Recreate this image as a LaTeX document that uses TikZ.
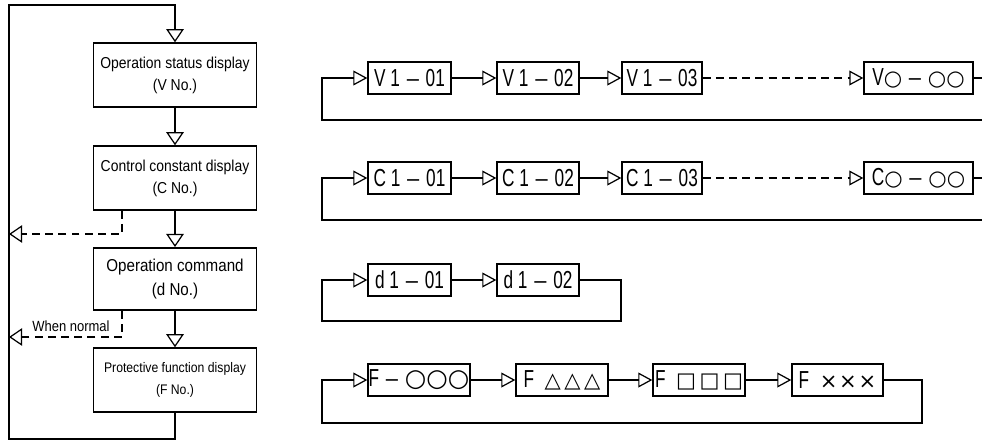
\documentclass[tikz,border=0pt]{standalone}
\usepackage{fontspec}
\setmainfont{Liberation Sans}
\newfontfamily\menufont{Liberation Sans}[FakeStretch=0.88]
\newfontfamily\rowfont{Liberation Sans}[FakeStretch=0.7]
\newfontfamily\symfont{DejaVu Sans}
\usetikzlibrary{arrows.meta}
\newcommand{\shp}[2][12]{{\symfont\fontsize{#1}{#1}\selectfont #2}}
\newcommand{\mn}{{\symfont\fontsize{11}{11}\selectfont −}}

\begin{document}
\begin{tikzpicture}[x=0.02cm,y=-0.02cm,line width=0.7pt,
    tri/.style={-{Triangle[open,length=7.5pt,width=10pt]}},
    rtri/.style={-{Triangle[open,length=8pt,width=8.5pt]}},
    dashline/.style={dash pattern=on 4.5pt off 3pt},
    menu/.style={draw,line width=1.1pt,minimum width=3.26cm,minimum height=1.27cm,align=center,inner sep=1pt},
    code/.style={draw,line width=0.8pt,minimum height=0.64cm,inner sep=0pt,font=\rowfont\fontsize{14}{14}\selectfont}]
            \clip (0,0) rectangle (982,444);
            % left column
            \node [menu,font=\menufont\fontsize{9}{12.5}\selectfont] (Vdisp) at (175,75) {Operation status display\\(V No.)};
            \node [menu,font=\menufont\fontsize{9}{12.5}\selectfont] (Cdisp) at (175,178) {Control constant display\\(C No.)};
            \node [menu,font=\menufont\fontsize{9.8}{14}\selectfont,minimum height=1.24cm] (dcmd) at (175,279) {Operation command\\(d No.)};
            \node [menu,font=\menufont\fontsize{7.9}{12.5}\selectfont] (Fdisp) at (175,380) {Protective function display\\(F No.)};
            \node [font=\menufont\fontsize{8.4}{8.4}\selectfont] (normal) at (71,326) {When normal};
            \coordinate (ret1) at (9,234);
            \coordinate (ret2) at (9,337);

            \draw [tri] (Vdisp) -- (Cdisp);
            \draw [tri] (Cdisp) -- (dcmd);
            \draw [tri] (dcmd) -- (Fdisp);
            \draw [tri] (Fdisp.south) |- (9,439) -- (9,5) -| (Vdisp.north);
            \draw [tri,dashline] ([xshift=-1.06cm]Cdisp.south) |- (ret1);
            \draw [tri,dashline] ([xshift=-1.06cm]dcmd.south) |- (ret2);

            % V row
            \node [code,minimum width=1.66cm] (V1) at (409.5,78) {V 1 \mn{} 01};
            \node [code,minimum width=1.64cm] (V2) at (538,78) {V 1 \mn{} 02};
            \node [code,minimum width=1.6cm] (V3) at (662,78) {V 1 \mn{} 03};
            \node [code,minimum width=2.18cm] (V9) at (918.5,78) {V\shp{○} \mn{} \shp{○○}};
            \draw [rtri] (V1) -- (V2);
            \draw [rtri] (V2) -- (V3);
            \draw [rtri,dashline] (V3) -- (V9);
            \draw [rtri] (V9.east) -- (995,78) |- (322,120) |- (V1.west);

            % C row
            \node [code,minimum width=1.66cm] (C1) at (409.5,178) {C 1 \mn{} 01};
            \node [code,minimum width=1.64cm] (C2) at (538,178) {C 1 \mn{} 02};
            \node [code,minimum width=1.6cm] (C3) at (662,178) {C 1 \mn{} 03};
            \node [code,minimum width=2.18cm] (C9) at (918.5,178) {C\shp{○} \mn{} \shp{○○}};
            \draw [rtri] (C1) -- (C2);
            \draw [rtri] (C2) -- (C3);
            \draw [rtri,dashline] (C3) -- (C9);
            \draw [rtri] (C9.east) -- (995,178) |- (322,220) |- (C1.west);

            % d row
            \node [code,minimum width=1.66cm] (d1) at (409.5,280) {d 1 \mn{} 01};
            \node [code,minimum width=1.64cm] (d2) at (538,280) {d 1 \mn{} 02};
            \draw [rtri] (d1) -- (d2);
            \draw [rtri] (d2.east) -- (621,280) |- (322,321) |- (d1.west);

            % F row
            \node [code,minimum width=2.04cm] (F1) at (419,380) {F \mn{} \shp[14]{○○○}};
            \node [code,minimum width=1.84cm] (F2) at (562,380) {F\hspace{6pt}\shp{△\,△\,△}};
            \node [code,minimum width=1.84cm] (F3) at (699,380) {F\hspace{6pt}\shp{□\,□\,□}};
            \node [code,minimum width=1.82cm] (F4) at (837.5,380) {F\hspace{6pt}\shp{×\kern1pt×\kern1pt×}};
            \draw [rtri] (F1) -- (F2);
            \draw [rtri] (F2) -- (F3);
            \draw [rtri] (F3) -- (F4);
            \draw [rtri] (F4.east) -- (922,380) |- (322,423) |- (F1.west);
        \end{tikzpicture}
\end{document}
